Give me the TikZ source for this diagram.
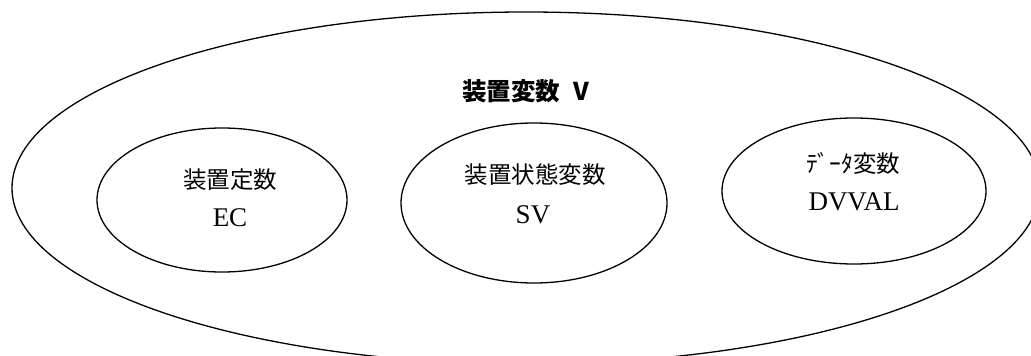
\documentclass[tikz,border=0pt]{standalone}
\usepackage{fontspec}
\setmainfont{Liberation Serif}
\newfontfamily\jp{Noto Sans CJK JP}
\begin{document}
\begin{tikzpicture}[x=1pt,y=-1pt,
  ring/.style={draw=black,line width=1.3pt},
  jptext/.style={font=\jp\fontsize{23.5}{26}\selectfont,inner sep=0pt},
  latext/.style={font=\fontsize{27}{30}\selectfont,inner sep=0pt},
  title/.style={font=\jp\bfseries\fontsize{24.5}{27}\selectfont,inner sep=0pt}]
\useasboundingbox (0,0) rectangle (1031,356);
\clip (0,0) rectangle (1031,356);
\draw[ring] (526,188) ellipse [x radius=514, y radius=176];
\draw[ring] (222,200) ellipse [x radius=125, y radius=72];
\draw[ring] (534,203) ellipse [x radius=133, y radius=80];
\draw[ring] (854,191) ellipse [x radius=132, y radius=73];
\node[title] (t) at (526,91) {装置変数\hspace{0.55em}V};
\node[jptext] (ec1) at (230,180) {装置定数};
\node[latext] (ec2) at (230,218) {EC};
\node[jptext] (sv1) at (535,175) {装置状態変数};
\node[latext] (sv2) at (533,215) {SV};
\node[jptext] (dv1) at (853,163) {ﾃﾞｰﾀ変数};
\node[latext] (dv2) at (854,202) {DVVAL};
\end{tikzpicture}
\end{document}
